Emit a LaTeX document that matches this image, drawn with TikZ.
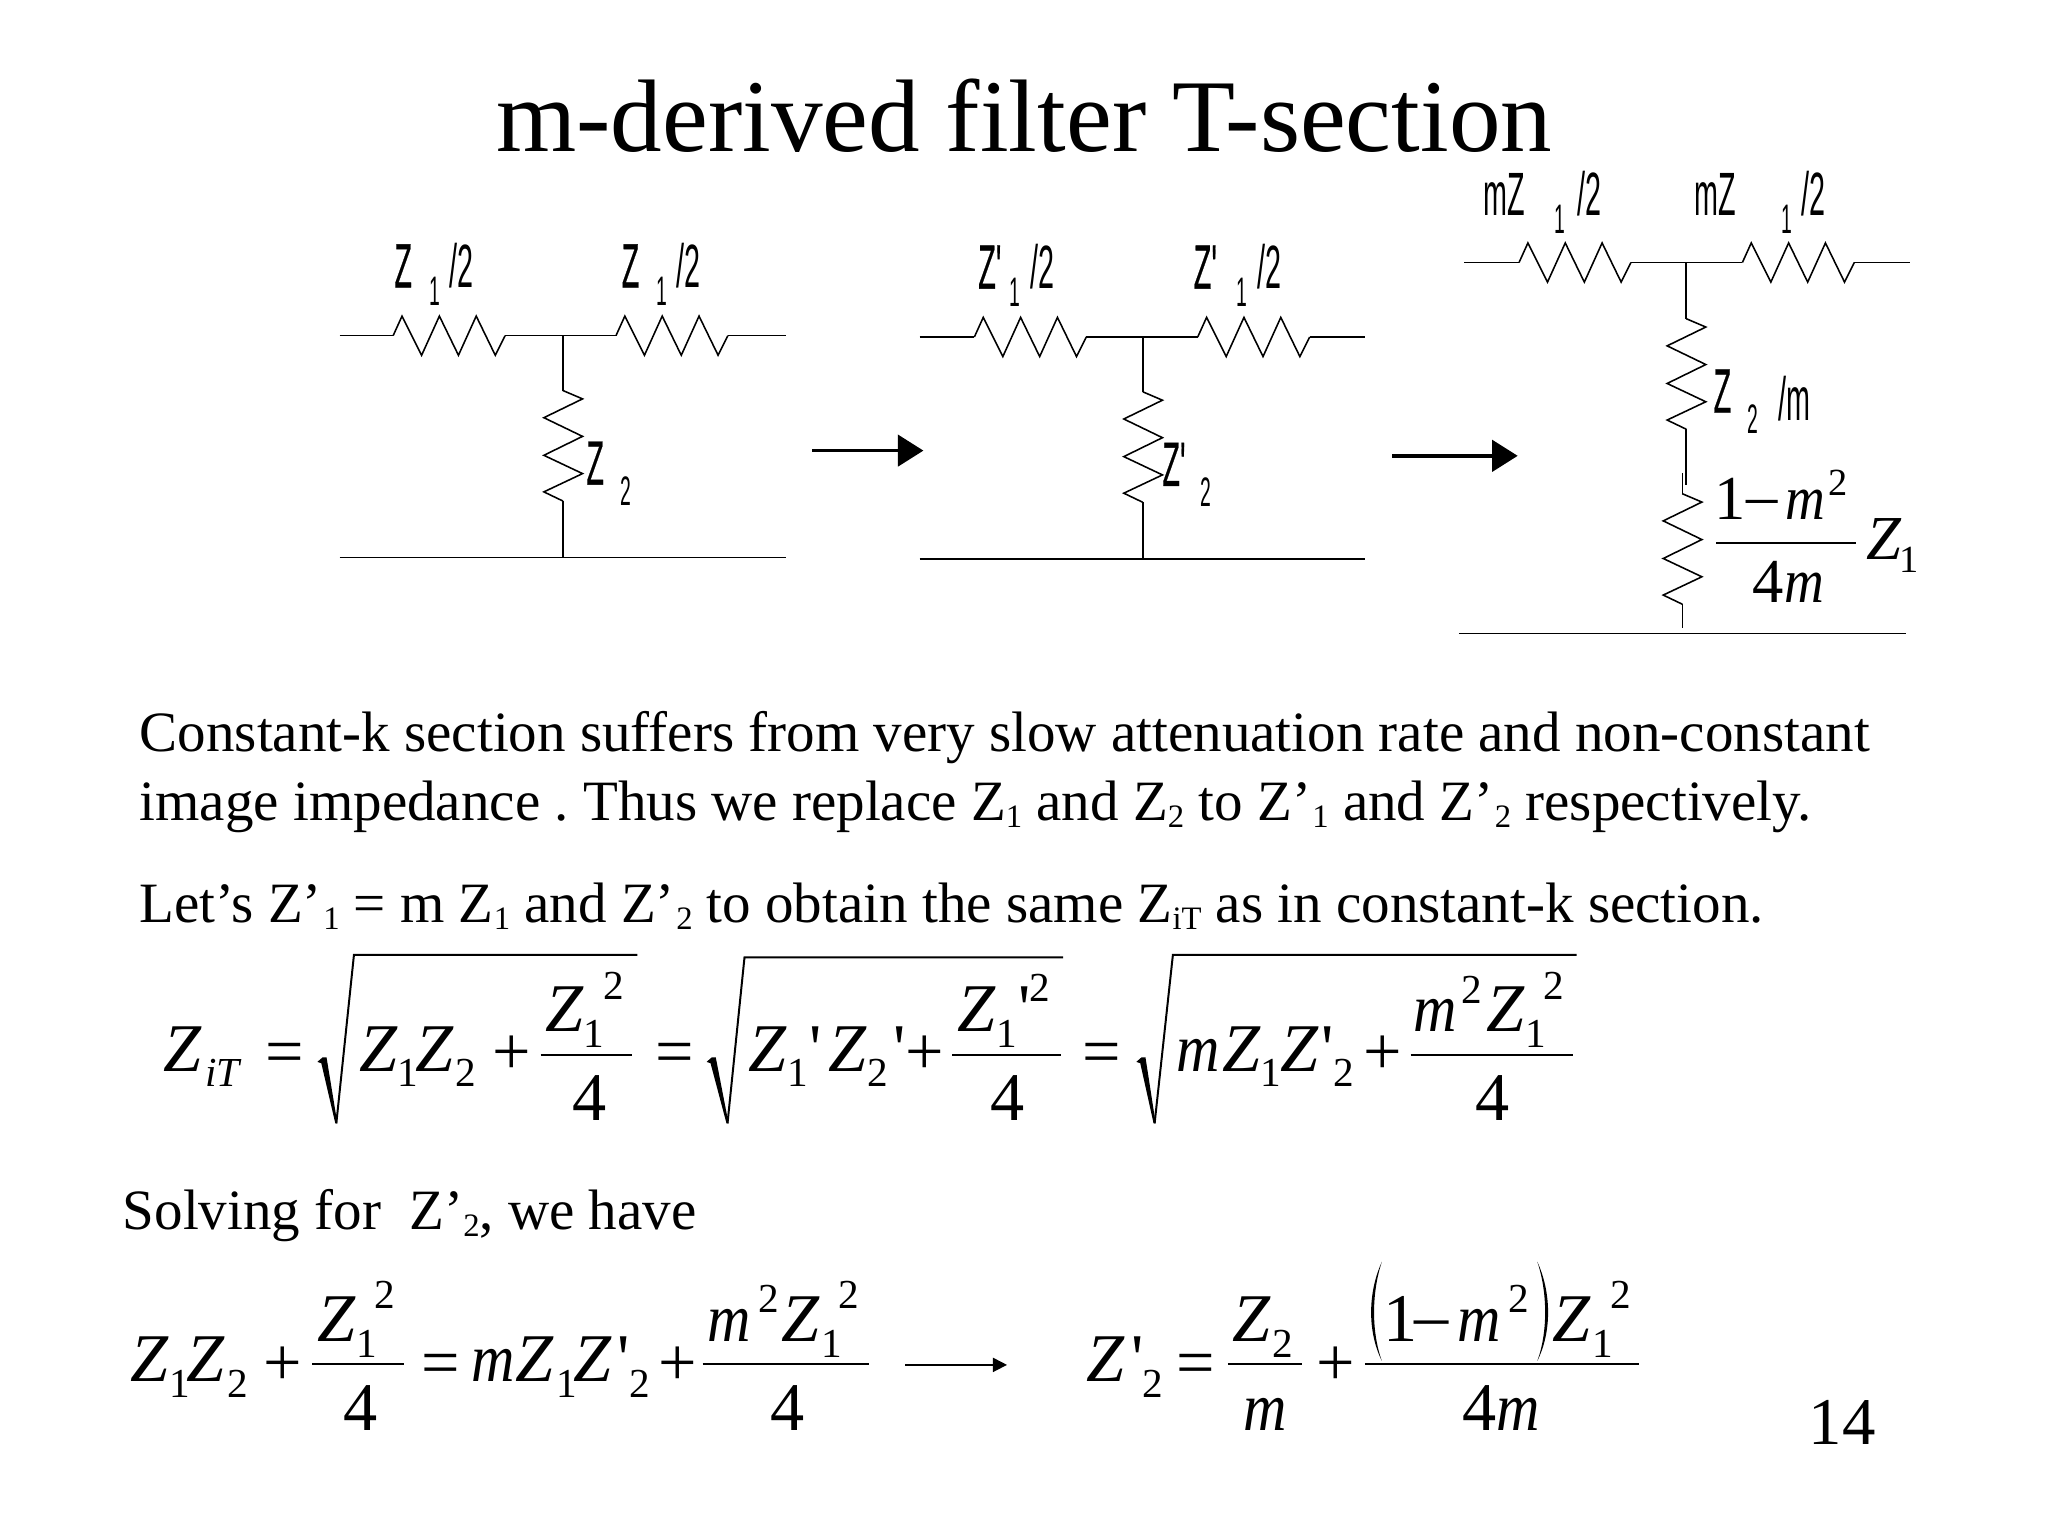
\documentclass[tikz,border=0pt]{standalone}
\usepackage{fontspec}
\setmainfont{Liberation Serif}
\newfontfamily\plainserif{Liberation Serif}
\newfontfamily\narrowsans{Liberation Sans}
\newfontfamily\fatsans[FakeBold=0.7]{Liberation Sans}
\usetikzlibrary{arrows.meta}
\frenchspacing
\newcounter{fr}
\tikzset{
  wire/.style={line width=0.55pt,line join=miter,black},
  frag/.style={anchor=base west,inner sep=0pt,outer sep=0pt,text=black},
  bar/.style={line width=0.7pt,black},
  fatarrow/.style={line width=1.3pt,-{Triangle[length=9pt,width=11pt]}},
  thinarrow/.style={line width=0.6pt,-{Triangle[length=5pt,width=5pt]}},
}
\newcommand\frg[4]{\stepcounter{fr}\node[frag,font=\fontsize{#1}{#1}\selectfont] (f\arabic{fr}) at (#2,-#3) {#4};}
\newcommand\bigf[3]{\frg{24}{#1}{#2}{#3}}
\newcommand\bigi[3]{\frg{24}{#1}{#2}{\itshape #3}}
\newcommand\smlf[3]{\frg{14.5}{#1}{#2}{#3}}
\newcommand\smli[3]{\frg{14.5}{#1}{#2}{\itshape #3}}
\newcommand\prm{{\plainserif\symbol{39}}}
\newcommand\nm{\scalebox{.88}[1]{m}}
\newcommand\mns{\raisebox{1pt}{–}}
% condensed circuit labels
\newcommand\clab[3]{\stepcounter{fr}\node[frag] (f\arabic{fr}) at (#1,-#2) {\fontsize{21.5}{21.5}\narrowsans\selectfont\scalebox{.47}[1]{#3}};}
\newcommand\cbld[3]{\stepcounter{fr}\node[frag] (f\arabic{fr}) at (#1,-#2) {\fontsize{22}{22}\fatsans\selectfont\scalebox{.46}[1]{#3}};}
\newcommand\csub[3]{\stepcounter{fr}\node[frag] (f\arabic{fr}) at (#1,-#2) {\fontsize{14.5}{14.5}\narrowsans\selectfont\scalebox{.47}[1]{#3}};}
\newcommand\hres[2]{\draw[wire] (#1,-#2) -- ++(6.8,15) -- ++(15,-30) -- ++(13.6,30) -- ++(14.6,-30) -- ++(13.6,30) -- ++(14.6,-30) -- ++(7.5,15);}
\newcommand\vres[2]{\draw[wire] (#1,-#2) -- ++(15,-6.4) -- ++(-29.6,-14.4) -- ++(29.6,-14.3) -- ++(-29.6,-14.5) -- ++(29.6,-14) -- ++(-29.6,-14) -- ++(14.6,-7);}
% radical: hook x,y; bottom x,y; top x,y; end x
\newcommand\radic[7]{\fill (#1,-#2) -- (#1+4,-#2+3.5) -- (#1+7,-#2+3.5) -- (#3+0.8,-#4) -- (#3-0.8,-#4) -- (#1+3,-#2-1) -- cycle;\draw[line width=0.7pt] (#3,-#4) -- (#5,-#6) -- (#7,-#6);}
\newcommand\sbs[1]{\raisebox{-2.5pt}{\fontsize{11.5}{11.5}\selectfont #1}}
\begin{document}
\begin{tikzpicture}[x=0.459184pt,y=0.459184pt]
\useasboundingbox (0,0) rectangle (1568,-1176);
\fill[white] (0,0) rectangle (1568,-1176);
% title
\frg{36.25}{380}{116}{m-derived filter T-section}
% section A
\coordinate (al) at (260,-257); \coordinate (aj) at (431,-257); \coordinate (ar) at (602,-257);
\coordinate (bl) at (260,-427); \coordinate (bj) at (431,-427); \coordinate (br) at (602,-427);
\draw[wire] (al) -- (301,-257); \hres{301}{257}
\draw[wire] (386.7,-257) -- (aj) -- (471.6,-257); \hres{471.6}{257}
\draw[wire] (557.3,-257) -- (ar);
\draw[wire] (aj) -- (431,-299); \vres{431}{299}
\draw[wire] (431,-383.6) -- (bj);
\draw[wire] (bl) -- (br);
\cbld{302}{220}{Z}\csub{329}{234}{1}\clab{344}{220}{/2}
\cbld{476}{220}{Z}\csub{503}{234}{1}\clab{518}{220}{/2}
\cbld{449}{371}{Z}\csub{475}{387}{2}
% section B
\coordinate (cl) at (704,-258); \coordinate (cj) at (875,-258); \coordinate (cr) at (1045,-258);
\coordinate (dl) at (704,-428); \coordinate (dj) at (875,-428); \coordinate (dr) at (1045,-428);
\draw[wire] (cl) -- (746,-258); \hres{746}{258}
\draw[wire] (831.7,-258) -- (cj) -- (917,-258); \hres{917}{258}
\draw[wire] (1002.7,-258) -- (cr);
\draw[wire] (cj) -- (875,-300); \vres{875}{300}
\draw[wire] (875,-384.6) -- (dj);
\draw[wire] (dl) -- (dr);
\cbld{749}{221}{Z'}\csub{773}{235}{1}\clab{789}{221}{/2}
\cbld{914}{221}{Z'}\csub{947}{235}{1}\clab{963}{221}{/2}
\cbld{890}{372}{Z'}\csub{919}{388}{2}
% section C
\coordinate (el) at (1121,-201); \coordinate (ej) at (1291,-201); \coordinate (er) at (1462,-201);
\coordinate (fl) at (1117,-485); \coordinate (fr) at (1459,-485);
\draw[wire] (el) -- (1163,-201); \hres{1163}{201}
\draw[wire] (1248.7,-201) -- (ej) -- (1334,-201); \hres{1334}{201}
\draw[wire] (1419.7,-201) -- (er);
\draw[wire] (ej) -- (1291,-244); \vres{1291}{244}
\draw[wire] (1291,-328.6) -- (1291,-371);
\draw[wire] (1288,-362) -- (1288,-378); \vres{1288}{378}
\draw[wire] (1288,-462.6) -- (1288,-481);
\draw[wire] (fl) -- (fr);
\clab{1136}{165}{mZ}\csub{1190}{179}{1}\clab{1208}{165}{/2}
\clab{1297}{165}{mZ}\csub{1364}{179}{1}\clab{1379}{165}{/2}
\cbld{1312}{316}{Z}\csub{1338}{332}{2}\clab{1362}{322}{/m}
\frg{22}{1313}{398}{1}\frg{22}{1337}{398}{\mns}\frg{22}{1367}{398}{\itshape\nm}\frg{13.5}{1400}{379}{2}
\draw[bar] (1314,-416) -- (1421,-416);
\frg{22}{1342}{461}{4}\frg{22}{1366}{461}{\itshape\nm}
\frg{22}{1429}{428}{\itshape Z}\frg{13.5}{1454}{438}{1}
% arrows
\coordinate (a1s) at (622,-345); \coordinate (a1e) at (707,-345);
\coordinate (a2s) at (1066,-349); \coordinate (a2e) at (1162,-349);
\coordinate (a3s) at (693,-1045); \coordinate (a3e) at (771,-1045);
\draw[fatarrow] (a1s) -- (a1e);
\draw[fatarrow] (a2s) -- (a2e);
\draw[thinarrow] (a3s) -- (a3e);
% body text
\frg{20.05}{107}{575}{Constant-k section suffers from very slow attenuation rate and non-constant}
\frg{20.05}{107}{628}{image impedance . Thus we replace Z\sbs{1} and Z\sbs{2} to Z’\sbs{\kern.5pt 1} and Z’\sbs{\kern.5pt 2} respectively.}
\frg{20.05}{107}{706}{Let’s Z’\sbs{\kern.5pt 1} = m Z\sbs{1} and Z’\sbs{\kern.5pt 2} to obtain the same Z\sbs{iT} as in constant-k section.}
\frg{20.05}{94}{941}{Solving for\ \ Z’\sbs{2}, we have}
% equation 1
\bigi{125}{820}{Z}\smli{157}{832}{iT}\bigf{203}{823}{=}
\radic{243}{813}{257.5}{860}{271}{731}{488}
\bigi{275}{820}{Z}\smlf{304}{832}{1}\bigi{318}{820}{Z}\smlf{349}{832}{2}\bigf{377}{823}{+}
\draw[bar] (414,-808) -- (484,-808);
\bigi{418}{790}{Z}\smlf{447}{802}{1}\smlf{462}{765}{2}\bigf{438}{858}{4}
\bigf{502}{823}{=}
\radic{541}{813}{557}{860}{570}{733}{814}
\bigi{573}{820}{Z}\smlf{603}{832}{1}\bigf{620}{820}{\prm}\bigi{634}{820}{Z}\smlf{664}{832}{2}\bigf{684}{820}{\prm}\bigf{693}{823}{+}
\draw[bar] (729,-808) -- (812,-808);
\bigi{733}{790}{Z}\smlf{763}{802}{1}\bigf{780}{790}{\prm}\smlf{788}{767}{2}\bigf{758}{858}{4}
\bigf{829}{823}{=}
\radic{870}{813}{884}{860}{898}{731}{1207}
\bigi{901}{820}{\nm}\bigi{936}{820}{Z}\smlf{965}{832}{1}\bigi{980}{820}{Z}\bigf{1012}{820}{\prm}\smlf{1021}{832}{2}\bigf{1044}{823}{+}
\draw[bar] (1080,-808) -- (1204,-808);
\bigi{1082}{790}{\nm}\smlf{1119}{768}{2}\bigi{1138}{790}{Z}\smlf{1168}{802}{1}\smlf{1182}{765}{2}\bigf{1130}{858}{4}
% equation 2
\bigi{100}{1058}{Z}\smlf{130}{1070}{1}\bigi{143}{1058}{Z}\smlf{174}{1070}{2}\bigf{202}{1061}{+}
\draw[bar] (239,-1044) -- (309,-1044);
\bigi{243}{1027}{Z}\smlf{273}{1039}{1}\smlf{287}{1002}{2}\bigf{263}{1095}{4}
\bigf{323}{1061}{=}
\bigi{361}{1058}{\nm}\bigi{395}{1058}{Z}\smlf{426}{1070}{1}\bigi{439}{1058}{Z}\bigf{473}{1058}{\prm}\smlf{482}{1070}{2}\bigf{504}{1061}{+}
\draw[bar] (538,-1044) -- (665,-1044);
\bigi{542}{1027}{\nm}\smlf{581}{1005}{2}\bigi{598}{1027}{Z}\smlf{629}{1039}{1}\smlf{642}{1002}{2}\bigf{590}{1095}{4}
\bigi{832}{1058}{Z}\bigf{866}{1058}{\prm}\smlf{875}{1070}{2}\bigf{901}{1061}{=}
\draw[bar] (940,-1044) -- (997,-1044);
\bigi{944}{1027}{Z}\smlf{974}{1039}{2}\bigi{952}{1095}{\nm}
\bigf{1008}{1061}{+}
\draw[bar] (1045,-1044) -- (1255,-1044);
\fill (1058,-966) .. controls (1047,-990) and (1047,-1020) .. (1058,-1042) .. controls (1050,-1020) and (1050,-990) .. cycle;
\fill (1177,-966) .. controls (1188,-990) and (1188,-1020) .. (1177,-1042) .. controls (1185,-1020) and (1185,-990) .. cycle;
\bigf{1059}{1027}{1}\bigf{1083}{1027}{\mns}\bigi{1116}{1027}{\nm}\smlf{1155}{1005}{2}
\bigi{1189}{1027}{Z}\smlf{1219}{1039}{1}\smlf{1233}{1002}{2}
\bigf{1120}{1095}{4}\bigi{1146}{1095}{\nm}
\frg{23.5}{1385}{1106}{14}
\end{tikzpicture}
\end{document}
